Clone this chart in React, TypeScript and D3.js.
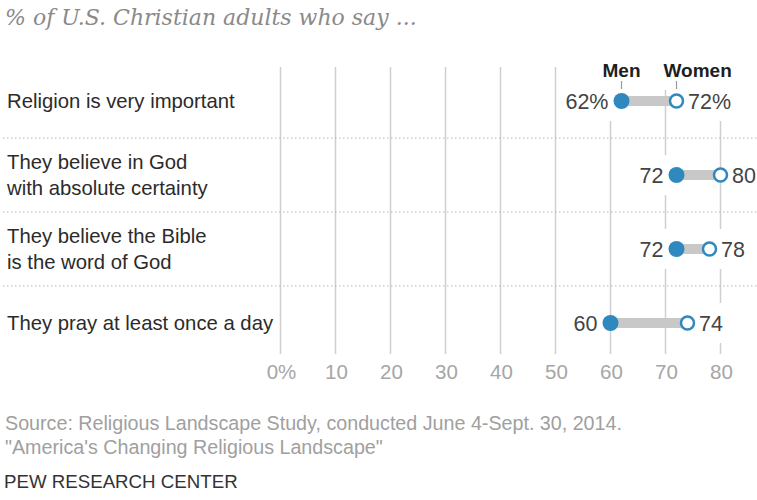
import React, { useEffect, useRef } from "react";
import * as d3 from "d3";

const categories = [
  "Religion is very important",
  "They believe in God\nwith absolute certainty",
  "They believe the Bible\nis the word of God",
  "They pray at least once a day",
];
const menValues = [62, 72, 72, 60];
const womenValues = [72, 80, 78, 74];
const tickValues = [0, 10, 20, 30, 40, 50, 60, 70, 80];
const tickLabels = ["0%", "10", "20", "30", "40", "50", "60", "70", "80"];
const seriesNames = ["Men", "Women"];
const title = "% of U.S. Christian adults who say ...";
const sourceLines = [
  "Source: Religious Landscape Study, conducted June 4-Sept. 30, 2014.",
  "\"America's Changing Religious Landscape\"",
];
const credit = "PEW RESEARCH CENTER";

const W = 757;
const H = 500;
const BLUE = "#2f89bf";
const SANS = "'Liberation Sans', Arial, sans-serif";

export default function App() {
  const ref = useRef<SVGSVGElement>(null);
  useEffect(() => {
    const svg = d3.select(ref.current);
    svg.selectAll("*").remove();

    const x = d3.scaleLinear().domain([0, 80]).range([280.5, 720.5]);
    const y = d3.scalePoint<string>().domain(categories).range([101, 323]);
    const step = y.step();
    const gridTop = 67;
    const gridBottom = 354;

    // title
    svg.append("text")
      .attr("x", 5).attr("y", 25)
      .attr("font-family", "'DejaVu Serif', Georgia, serif")
      .attr("font-style", "italic")
      .attr("font-size", 22)
      .attr("fill", "#8a8a8a")
      .text(title);

    // gridlines
    svg.append("g").selectAll("line").data(tickValues).join("line")
      .attr("x1", (d) => x(d)).attr("x2", (d) => x(d))
      .attr("y1", gridTop).attr("y2", gridBottom)
      .attr("stroke", "#cfcfcf").attr("stroke-width", 1.5);

    // separators
    svg.append("g").selectAll("line").data(categories.slice(1)).join("line")
      .attr("x1", 3).attr("x2", W)
      .attr("y1", (d) => (y(d) as number) - step / 2)
      .attr("y2", (d) => (y(d) as number) - step / 2)
      .attr("stroke", "#b5b5b5").attr("stroke-width", 1)
      .attr("stroke-dasharray", "1.5,2.5");

    // axis tick labels
    svg.append("g").selectAll("text").data(tickValues).join("text")
      .attr("x", (d) => x(d) + 1).attr("y", 379)
      .attr("text-anchor", "middle")
      .attr("font-family", SANS).attr("font-size", 20.5)
      .attr("fill", "#a6a6a6")
      .text((d, i) => tickLabels[i]);

    // row labels
    const rows = svg.append("g").selectAll("text").data(categories).join("text")
      .attr("font-family", SANS).attr("font-size", 20.3)
      .attr("fill", "#2b2b2b");
    rows.each(function (d) {
      const lines = d.split("\n");
      const cy = y(d) as number;
      const lh = 26;
      const t = d3.select(this);
      lines.forEach((ln, i) => {
        t.append("tspan")
          .attr("x", 7)
          .attr("y", cy + (i - (lines.length - 1) / 2) * lh + 7)
          .text(ln);
      });
    });

    // legend
    const legendX = [x(menValues[0]), x(womenValues[0])];
    const lg = svg.append("g");
    seriesNames.forEach((n, i) => {
      const t = lg.append("text")
        .attr("x", i === 0 ? legendX[i] : legendX[i] - 13).attr("y", 77)
        .attr("text-anchor", i === 0 ? "middle" : "start")
        .attr("font-family", SANS).attr("font-size", 19)
        .attr("font-weight", "bold").attr("fill", "#1e1e1e")
        .text(n);
      const bb = (t.node() as SVGTextElement).getBBox();
      lg.insert("rect", "text")
        .attr("x", bb.x - 3).attr("y", 58).attr("width", bb.width + 6).attr("height", 32)
        .attr("fill", "#fff");
      lg.append("line")
        .attr("x1", legendX[i]).attr("x2", legendX[i])
        .attr("y1", 81).attr("y2", 89)
        .attr("stroke", "#9a9a9a").attr("stroke-width", 1.2);
    });

    // dumbbells
    const g = svg.append("g");
    categories.forEach((c, i) => {
      const cy = y(c) as number;
      const m = menValues[i];
      const w = womenValues[i];
      const suffix = i === 0 ? "%" : "";
      const lo = Math.min(m, w);
      const hi = Math.max(m, w);
      const left = g.append("text")
        .attr("x", x(lo) - 13).attr("y", cy + 7.5)
        .attr("text-anchor", "end")
        .attr("font-family", SANS).attr("font-size", 21.5)
        .attr("fill", "#444")
        .text(`${lo}${suffix}`);
      const right = g.append("text")
        .attr("x", x(hi) + 11.5).attr("y", cy + 7.5)
        .attr("text-anchor", "start")
        .attr("font-family", SANS).attr("font-size", 21.5)
        .attr("fill", "#444")
        .text(`${hi}${suffix}`);
      [left, right].forEach((t) => {
        const bb = (t.node() as SVGTextElement).getBBox();
        g.insert("rect", "text")
          .attr("x", bb.x - 4).attr("y", cy - 20)
          .attr("width", bb.width + 8).attr("height", 40)
          .attr("fill", "#fff");
      });
      g.append("line")
        .attr("x1", x(m)).attr("x2", x(w))
        .attr("y1", cy).attr("y2", cy)
        .attr("stroke", "#c8c8c8").attr("stroke-width", 10);
      g.append("circle")
        .attr("cx", x(m)).attr("cy", cy).attr("r", 8)
        .attr("fill", BLUE);
      g.append("circle")
        .attr("cx", x(w)).attr("cy", cy).attr("r", 6.5)
        .attr("fill", "#fff").attr("stroke", BLUE).attr("stroke-width", 2.5);
    });

    // footer
    sourceLines.forEach((s, i) => {
      svg.append("text")
        .attr("x", 5).attr("y", 430 + i * 24)
        .attr("font-family", SANS).attr("font-size", 19.7)
        .attr("fill", "#a0a0a0")
        .text(s);
    });
    svg.append("text")
      .attr("x", 4).attr("y", 488)
      .attr("font-family", SANS).attr("font-size", 18.7)
      .attr("fill", "#333")
      .text(credit);
  }, []);

  return (
    <svg
      ref={ref}
      width={W}
      height={H}
      style={{ position: "absolute", left: 0, top: 0, background: "#fff" }}
    />
  );
}
